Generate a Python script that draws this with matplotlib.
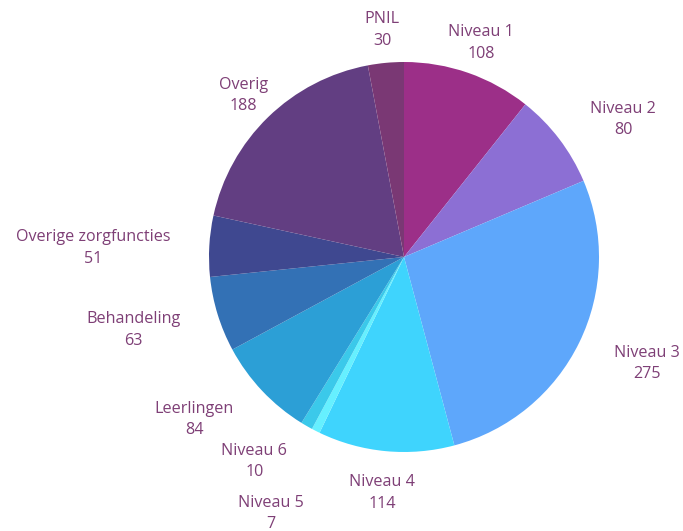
import matplotlib.pyplot as plt
import numpy as np

labels = ["Niveau 1", "Niveau 2", "Niveau 3", "Niveau 4", "Niveau 5", "Niveau 6",
          "Leerlingen", "Behandeling", "Overige zorgfuncties", "Overig", "PNIL"]
values = [108, 80, 275, 114, 7, 10, 84, 63, 51, 188, 30]

colors = ["#9C2F88", "#8C6FD4", "#5EA7FB", "#3FD4FD", "#66F0FF", "#3BC9EA",
          "#2C9FD6", "#3371B5", "#3F4890", "#623E82", "#7A3874"]
# label alignment per slice, plus small pixel nudges (dx, dy)
aligns = ["center", "left", "left", "center", "right", "right",
          "right", "right", "right", "center", "center"]
nudges = [(0, -7), (0, -4), (0, -4), (0, -3), (6, -48), (0, -2),
          (0, -2), (0, -4), (0, -4), (3, -6), (0, -6)]

plt.rcParams['font.family'] = ['Open Sans', 'DejaVu Sans']

fig = plt.figure(figsize=(6.83, 5.31), dpi=100)
ax = fig.add_axes([0, 0, 1, 1])

R = 195.0
cx, cy = 404.0, 257.0
ax.pie(values, colors=colors, startangle=90, counterclock=False,
       wedgeprops=dict(linewidth=0))
ax.set_xlim(-cx / R, (683 - cx) / R)
ax.set_ylim((cy - 531) / R, cy / R)
ax.set_aspect('equal')
ax.axis('off')

total = sum(values)
cum = np.cumsum([0] + values)
for i, lab in enumerate(labels):
    mid = (cum[i] + values[i] / 2) / total * 2 * np.pi
    x = 1.2 * np.sin(mid) + nudges[i][0] / R
    y = 1.2 * np.cos(mid) + nudges[i][1] / R
    ax.text(x, y, f"{lab}\n{values[i]}", ha=aligns[i], va="center",
            multialignment="center", fontsize=11.6, color="#7E3F76",
            linespacing=1.45)

fig.savefig("out.png", dpi=100)
